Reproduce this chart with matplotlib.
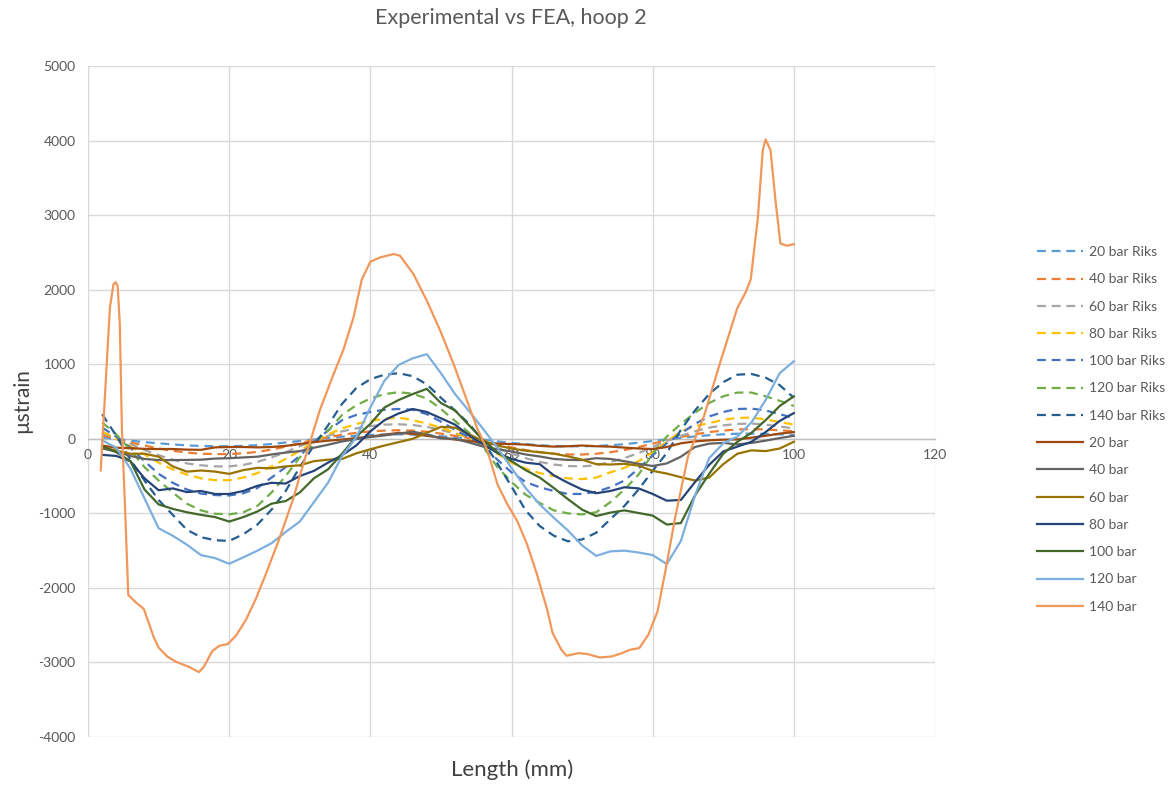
import matplotlib
matplotlib.use("Agg")
import matplotlib.pyplot as plt

plt.rcParams['font.family'] = ['Lato', 'DejaVu Sans']
plt.rcParams['axes.unicode_minus'] = False

# ---------------- data ----------------
x_riks = [2, 4, 6, 8, 10, 12, 14, 16, 18, 20, 22, 24, 26, 28, 30, 32, 34, 36, 38, 40,
          42, 44, 46, 48, 50, 52, 54, 56, 58, 60, 62, 64, 66, 68, 70, 72, 74, 76, 78, 80,
          82, 84, 86, 88, 90, 92, 94, 96, 98, 100]

riks_20 = [20, -5, -25, -45, -60, -75, -88, -96, -100, -100, -95, -85, -70, -50, -30, -8, 10, 28, 42, 52,
           58, 60, 57, 48, 35, 20, 5, -10, -35, -55, -72, -86, -96, -100, -100, -96, -86, -72, -52, -30,
           -8, 12, 32, 48, 60, 68, 70, 66, 60, 52]
riks_40 = [50, 0, -50, -90, -130, -160, -185, -200, -205, -205, -195, -175, -145, -105, -60, -15, 20, 55, 80, 100,
           110, 115, 110, 95, 70, 40, 10, -20, -70, -115, -150, -180, -200, -210, -210, -200, -180, -150, -110, -65,
           -20, 25, 60, 90, 110, 125, 130, 125, 115, 100]
riks_60 = [80, 10, -70, -150, -220, -280, -330, -355, -370, -370, -350, -310, -250, -180, -100, -20, 40, 100, 140, 170,
           190, 195, 185, 160, 120, 70, 20, -30, -120, -200, -260, -310, -345, -365, -370, -355, -310, -260, -190, -110,
           -30, 40, 100, 150, 180, 200, 205, 190, 165, 140]
riks_80 = [100, 0, -100, -210, -320, -410, -480, -530, -555, -555, -520, -460, -370, -270, -160, -40, 60, 140, 200, 240,
           270, 285, 250, 205, 150, 80, 10, -70, -200, -320, -400, -460, -500, -530, -540, -520, -450, -390, -300, -180,
           -40, 100, 170, 210, 255, 280, 285, 260, 225, 190]
riks_100 = [150, 30, -120, -300, -470, -590, -680, -735, -755, -760, -730, -660, -520, -380, -230, -40, 110, 250, 320, 360,
            390, 400, 390, 330, 230, 120, 20, -100, -280, -450, -580, -650, -700, -740, -740, -710, -650, -560, -400, -220,
            -60, 70, 200, 300, 360, 400, 405, 380, 330, 280]
riks_120 = [220, 60, -150, -380, -560, -720, -870, -960, -1005, -1014, -985, -900, -720, -500, -250, -60, 110, 320, 450, 540,
            600, 625, 605, 540, 400, 240, 80, -110, -380, -580, -750, -860, -960, -1000, -1014, -985, -850, -680, -480, -200,
            30, 200, 350, 480, 570, 620, 620, 570, 510, 440]
riks_140 = [330, 40, -280, -560, -820, -1020, -1220, -1320, -1360, -1370, -1280, -1150, -950, -700, -380, -90, 180, 470, 680, 800,
            860, 880, 840, 730, 550, 380, 200, -30, -330, -640, -960, -1170, -1300, -1375, -1350, -1260, -1080, -900, -680, -430,
            -190, 120, 380, 600, 760, 860, 870, 820, 720, 550]

x_exp = x_riks

exp_20 = [-90, -120, -125, -135, -137, -137, -145, -148, -115, -110, -110, -115, -110, -95, -70, -45, -25, -10, 10, 30,
          55, 80, 65, 40, 15, -10, -30, -50, -65, -70, -78, -95, -105, -100, -90, -100, -105, -118, -130, -137,
          -110, -60, -35, -20, -12, -8, 15, 40, 70, 90]
exp_40 = [-130, -170, -230, -270, -285, -285, -283, -280, -265, -260, -250, -240, -210, -185, -165, -120, -80, -35, -5, 25,
          45, 70, 95, 60, 5, 0, -50, -105, -140, -170, -210, -237, -270, -283, -285, -260, -270, -300, -335, -365,
          -330, -240, -110, -65, -55, -75, -55, -25, 10, 40]
exp_60 = [-110, -160, -200, -200, -240, -370, -440, -425, -440, -470, -420, -390, -395, -370, -355, -300, -280, -270, -195, -140,
          -90, -45, 0, 80, 160, 150, 60, -30, -90, -130, -160, -180, -200, -235, -280, -340, -345, -335, -360, -430,
          -466, -515, -560, -520, -340, -200, -155, -165, -130, -40]
exp_80 = [-215, -230, -300, -530, -690, -665, -715, -700, -740, -740, -700, -630, -590, -600, -500, -430, -320, -220, -90, 100,
          250, 340, 400, 360, 275, 190, 45, -75, -190, -270, -320, -340, -490, -590, -680, -730, -700, -650, -665, -740,
          -830, -820, -580, -350, -170, -105, -40, 90, 240, 345]
exp_100 = [-100, -180, -300, -680, -880, -940, -985, -1020, -1050, -1110, -1050, -975, -870, -835, -720, -530, -410, -200, 30, 200,
           420, 520, 600, 670, 480, 380, 180, -20, -180, -300, -420, -520, -660, -810, -950, -1036, -990, -960, -995, -1030,
           -1150, -1130, -760, -470, -200, -40, 80, 250, 440, 570]
exp_120 = [-20, -120, -400, -800, -1200, -1300, -1420, -1560, -1600, -1676, -1590, -1500, -1400, -1250, -1110, -850, -590, -230, 20, 420,
           780, 990, 1080, 1135, 880, 600, 370, 130, -120, -390, -660, -880, -1060, -1230, -1430, -1570, -1510, -1500, -1525, -1560,
           -1680, -1370, -760, -260, -60, 30, 220, 520, 880, 1040]

x_140 = [1.8, 2.4, 3.1, 3.6, 3.9, 4.2, 4.5, 4.8, 5.2, 5.7, 6.7, 7.9, 8.6, 9.3, 10.0, 11.2, 12.4, 14.3, 15.7, 16.4,
         17.6, 18.6, 19.8, 21.0, 22.4, 23.8, 25.2, 27.1, 29.0, 30.9, 32.9, 34.8, 36.2, 37.6, 38.8, 40.0, 41.4, 43.3, 44.2, 46.1,
         48.0, 49.9, 51.8, 53.7, 55.1, 56.6, 58.0, 59.4, 60.8, 62.2, 63.6, 65.1, 65.8, 67.0, 67.8, 69.5, 70.8, 72.5, 74.2, 75.5,
         76.8, 78.1, 79.4, 80.7, 81.9, 83.2, 85.0, 87.3, 89.6, 92.0, 93.2, 93.9, 94.9, 95.6, 96.0, 96.7, 97.4, 98.1, 99.0, 100.0]
exp_140 = [-424, 588, 1765, 2070, 2100, 2047, 1530, 118, -823, -2094, -2188, -2282, -2470, -2659, -2800, -2918, -2988, -3059, -3129, -3059,
           -2847, -2776, -2753, -2635, -2423, -2141, -1812, -1341, -823, -212, 400, 870, 1200, 1624, 2141, 2376, 2433, 2478, 2456, 2210,
           1852, 1450, 1002, 510, 152, -161, -608, -877, -1100, -1413, -1816, -2308, -2600, -2820, -2910, -2874, -2888, -2933, -2919, -2880,
           -2829, -2807, -2626, -2311, -1725, -1050, -239, 312, 1034, 1755, 1970, 2140, 2960, 3870, 4015, 3870, 3200, 2620, 2590, 2610]

riks_labels = ["20 bar Riks", "40 bar Riks", "60 bar Riks", "80 bar Riks",
               "100 bar Riks", "120 bar Riks", "140 bar Riks"]
exp_labels = ["20 bar", "40 bar", "60 bar", "80 bar", "100 bar", "120 bar", "140 bar"]

riks_colors = ["#5B9BD5", "#ED7D31", "#A5A5A5", "#FFC000", "#4472C4", "#70AD47", "#255E91"]
exp_colors = ["#9E480E", "#636363", "#997300", "#264478", "#43682B", "#7CAFDD", "#F1975A"]

x_ticks = [0, 20, 40, 60, 80, 100, 120]
y_ticks = [-4000, -3000, -2000, -1000, 0, 1000, 2000, 3000, 4000, 5000]

# ---------------- figure ----------------
fig = plt.figure(figsize=(11.74, 7.85), dpi=100)
fig.patch.set_facecolor("white")
ax = fig.add_axes([0.075, 0.0611, 0.7214, 0.8548])

lw = 1.6
riks_series = [riks_20, riks_40, riks_60, riks_80, riks_100, riks_120, riks_140]
for ys, lab, col in zip(riks_series, riks_labels, riks_colors):
    ax.plot(x_riks, ys, color=col, lw=lw, ls=(0, (4.0, 2.6)), label=lab,
            solid_capstyle="butt", dash_capstyle="butt")

exp_series = [(x_exp, exp_20), (x_exp, exp_40), (x_exp, exp_60), (x_exp, exp_80),
              (x_exp, exp_100), (x_exp, exp_120), (x_140, exp_140)]
for (xs, ys), lab, col in zip(exp_series, exp_labels, exp_colors):
    ax.plot(xs, ys, color=col, lw=lw, ls="-", label=lab)

ax.set_xlim(0, 120)
ax.set_ylim(-4000, 5000)
ax.set_xticks(x_ticks)
ax.set_yticks(y_ticks)
ax.grid(True, color="#D9D9D9", lw=1.0)
ax.set_axisbelow(True)
for s in ["top", "right", "left"]:
    ax.spines[s].set_visible(False)
ax.spines["bottom"].set_position(("data", 0))
ax.spines["bottom"].set_color("#BFBFBF")
ax.spines["bottom"].set_linewidth(1.0)
ax.spines["bottom"].set_zorder(1)
ax.tick_params(axis="both", length=0, colors="#595959", labelsize=10)
ax.tick_params(axis="x", pad=7)
ax.tick_params(axis="y", pad=9)

fig.text(0.4355, 1 - 18 / 785, "Experimental vs FEA, hoop 2", fontsize=15.5, color="#595959",
         ha="center", va="center")
fig.text(22 / 1174, 1 - 401 / 785, "µstrain", fontsize=15, color="#404040",
         ha="center", va="center", rotation=90)
fig.text(0.436, 1 - 770 / 785, "Length (mm)", fontsize=16, color="#404040", ha="center", va="center")

leg = fig.legend(loc="center left", bbox_to_anchor=(0.8833, 0.453), frameon=False,
                 fontsize=10, handlelength=3.3, handletextpad=0.45, labelspacing=1.1,
                 borderpad=0, borderaxespad=0)
for t in leg.get_texts():
    t.set_color("#595959")

fig.savefig("out.png", dpi=100)
